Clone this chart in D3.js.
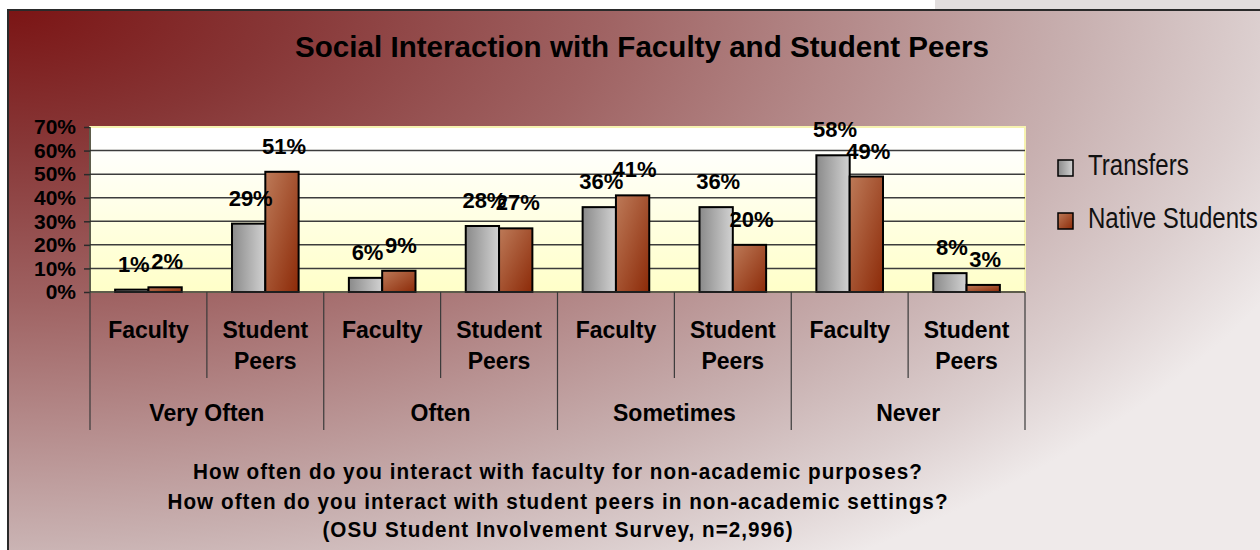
<!DOCTYPE html>
<html>
<head>
<meta charset="utf-8">
<script src="https://cdn.jsdelivr.net/npm/d3@7"></script>
<style>
  html, body { margin: 0; padding: 0; background: #fff; }
  svg text { font-family: "Liberation Sans", Arial, sans-serif; }
</style>
</head>
<body>
<script>
// data
var groups = ["Very Often", "Often", "Sometimes", "Never"];
var subgroups = ["Faculty", "Student Peers"];
var seriesNames = ["Transfers", "Native Students"];
var transfers = [1, 29, 6, 28, 36, 36, 58, 8];
var natives = [2, 51, 9, 27, 41, 20, 49, 3];
var yTicks = [0, 10, 20, 30, 40, 50, 60, 70];
var subtitle = [
  "How often do you interact with faculty for non-academic purposes?",
  "How often do you interact with student peers in non-academic settings?",
  "(OSU Student Involvement Survey, n=2,996)"
];

var W = 1260, H = 550;
var plot = { left: 90, right: 1025, top: 127, bottom: 292 };

// one row per bar pair
var rows = [];
groups.forEach(function (g, gi) {
  subgroups.forEach(function (s, si) {
    var i = gi * subgroups.length + si;
    rows.push({ key: i, group: g, sub: s, values: [transfers[i], natives[i]] });
  });
});

var svg = d3.select("body").append("svg")
  .attr("width", W)
  .attr("height", H);

var defs = svg.append("defs");

// corner gradient of the slide background
var bg = defs.append("radialGradient").attr("id", "bg")
  .attr("gradientUnits", "userSpaceOnUse")
  .attr("cx", 0).attr("cy", 0).attr("r", 1400)
  .attr("fx", 0).attr("fy", 0)
  .attr("gradientTransform", "scale(1,0.5)");
[[0, "#7a1212"], [0.2, "#873636"], [0.43, "#9f6262"], [0.77, "#c8b0b0"], [0.9, "#dccfcf"], [1, "#efeaea"]]
  .forEach(function (s) { bg.append("stop").attr("offset", s[0]).attr("stop-color", s[1]); });

var pbg = defs.append("linearGradient").attr("id", "pbg")
  .attr("x1", 0).attr("y1", 0).attr("x2", 0).attr("y2", 1);
pbg.append("stop").attr("offset", 0.1).attr("stop-color", "#ffffff");
pbg.append("stop").attr("offset", 1).attr("stop-color", "#ffffc8");

var gGray = defs.append("linearGradient").attr("id", "gGray")
  .attr("x1", 0).attr("y1", 0).attr("x2", 1).attr("y2", 0);
gGray.append("stop").attr("offset", 0).attr("stop-color", "#8a8a8a");
gGray.append("stop").attr("offset", 1).attr("stop-color", "#d2d2d2");

var gRed = defs.append("linearGradient").attr("id", "gRed")
  .attr("x1", 0).attr("y1", 0).attr("x2", 1).attr("y2", 1);
gRed.append("stop").attr("offset", 0).attr("stop-color", "#bd7a58");
gRed.append("stop").attr("offset", 1).attr("stop-color", "#8c2a08");

var fills = ["url(#gGray)", "url(#gRed)"];

// background frame
svg.append("rect").attr("x", 935).attr("y", 0).attr("width", W - 935).attr("height", 10)
  .attr("fill", "#e2dede");
svg.append("rect").attr("x", 8).attr("y", 10).attr("width", W + 20).attr("height", H + 20)
  .attr("fill", "url(#bg)").attr("stroke", "#2a2a2a").attr("stroke-width", 2);

// title
svg.append("text")
  .attr("x", 642).attr("y", 57)
  .attr("text-anchor", "middle")
  .style("font-size", "29.6px").style("font-weight", "bold")
  .text("Social Interaction with Faculty and Student Peers");

// scales
var x = d3.scaleBand()
  .domain(rows.map(function (d) { return d.key; }))
  .range([plot.left, plot.right])
  .paddingInner(0.43)
  .paddingOuter(0.215);

var xs = d3.scaleBand()
  .domain([0, 1])
  .range([0, x.bandwidth()]);

var y = d3.scaleLinear()
  .domain([0, 70])
  .range([plot.bottom, plot.top]);

var step = x.step();
var edge = function (i) { return plot.left + i * step; };

// plot area
svg.append("rect")
  .attr("x", plot.left).attr("y", plot.top)
  .attr("width", plot.right - plot.left).attr("height", plot.bottom - plot.top)
  .attr("fill", "url(#pbg)")
  .attr("stroke", "#f6f2b0").attr("stroke-width", 2);

// gridlines
svg.append("g").selectAll("line")
  .data(yTicks.filter(function (t) { return t > 0 && t < 70; }))
  .enter().append("line")
  .attr("x1", plot.left).attr("x2", plot.right)
  .attr("y1", function (d) { return y(d); }).attr("y2", function (d) { return y(d); })
  .attr("stroke", "#3c3c3c").attr("stroke-width", 1.5);

// y axis
var yAxis = d3.axisLeft(y)
  .tickValues(yTicks)
  .tickSize(6)
  .tickPadding(8)
  .tickFormat(function (d) { return d + "%"; });

var ya = svg.append("g")
  .attr("transform", "translate(" + plot.left + ",0)")
  .call(yAxis);
ya.select(".domain").remove();
ya.selectAll(".tick line").attr("stroke", "#2a2a2a").attr("stroke-width", 1.5);
ya.selectAll(".tick text")
  .attr("fill", "#000")
  .style("font-size", "21px").style("font-weight", "bold")
  .style("font-family", "'Liberation Sans', Arial, sans-serif");

// bars
var bars = svg.append("g").selectAll("g")
  .data(rows)
  .enter().append("g")
  .attr("transform", function (d) { return "translate(" + x(d.key) + ",0)"; });

bars.selectAll("rect")
  .data(function (d) { return d.values; })
  .enter().append("rect")
  .attr("x", function (d, i) { return xs(i); })
  .attr("y", function (d) { return y(d); })
  .attr("width", xs.bandwidth())
  .attr("height", function (d) { return y(0) - y(d); })
  .attr("fill", function (d, i) { return fills[i]; })
  .attr("stroke", "#000").attr("stroke-width", 2);

bars.selectAll("text")
  .data(function (d) { return d.values; })
  .enter().append("text")
  .attr("x", function (d, i) { return xs(i) + xs.bandwidth() / 2 + 2; })
  .attr("y", function (d) { return y(d) - 18; })
  .attr("text-anchor", "middle")
  .style("font-size", "22px").style("font-weight", "bold")
  .text(function (d) { return d + "%"; });

// x axis line
svg.append("line")
  .attr("x1", plot.left).attr("x2", plot.right)
  .attr("y1", plot.bottom).attr("y2", plot.bottom)
  .attr("stroke", "#2a2a2a").attr("stroke-width", 1.5);

// category separators
var seps = d3.range(rows.length + 1);
svg.append("g").selectAll("line")
  .data(seps)
  .enter().append("line")
  .attr("x1", edge).attr("x2", edge)
  .attr("y1", plot.bottom)
  .attr("y2", function (i) { return i % subgroups.length === 0 ? 430 : 378; })
  .attr("stroke", "#3a3a3a").attr("stroke-width", 1.2);
svg.append("line")
  .attr("x1", plot.left).attr("x2", plot.left)
  .attr("y1", plot.top).attr("y2", plot.bottom)
  .attr("stroke", "#2a2a2a").attr("stroke-width", 1.5);

// sub category labels
var subLab = svg.append("g").selectAll("text")
  .data(rows)
  .enter().append("text")
  .attr("text-anchor", "middle")
  .attr("x", function (d) { return x(d.key) + x.bandwidth() / 2; })
  .attr("y", 338)
  .style("font-size", "23px").style("font-weight", "bold");
subLab.each(function (d) {
  var words = d.sub.split(" ");
  var t = d3.select(this);
  words.forEach(function (w, i) {
    t.append("tspan")
      .attr("x", x(d.key) + x.bandwidth() / 2)
      .attr("dy", i === 0 ? 0 : 31)
      .text(w);
  });
});

// group labels
svg.append("g").selectAll("text")
  .data(groups)
  .enter().append("text")
  .attr("text-anchor", "middle")
  .attr("x", function (d, i) { return edge(i * 2) + step; })
  .attr("y", 421)
  .style("font-size", "23px").style("font-weight", "bold")
  .text(function (d) { return d; });

// legend (narrow look: regular face squeezed horizontally)
var legend = svg.append("g").attr("transform", "translate(1058,160)");
var li = legend.selectAll("g")
  .data(seriesNames)
  .enter().append("g")
  .attr("transform", function (d, i) { return "translate(0," + (i * 53) + ")"; });
li.append("rect")
  .attr("width", 15).attr("height", 16)
  .attr("fill", function (d, i) { return fills[i]; })
  .attr("stroke", "#000").attr("stroke-width", 1.5);
li.append("text")
  .attr("transform", "translate(30,15) scale(0.83,1)")
  .style("font-size", "29px")
  .attr("fill", "#111")
  .text(function (d) { return d; });

// subtitle, slightly narrow glyphs with a bit of extra spacing
svg.append("g").selectAll("text")
  .data(subtitle)
  .enter().append("text")
  .attr("transform", function (d, i) { return "translate(558," + [479, 509, 537][i] + ") scale(0.94,1)"; })
  .attr("text-anchor", "middle")
  .style("font-size", "22px").style("font-weight", "bold")
  .style("letter-spacing", "1.1px")
  .text(function (d) { return d; });
</script>
</body>
</html>
